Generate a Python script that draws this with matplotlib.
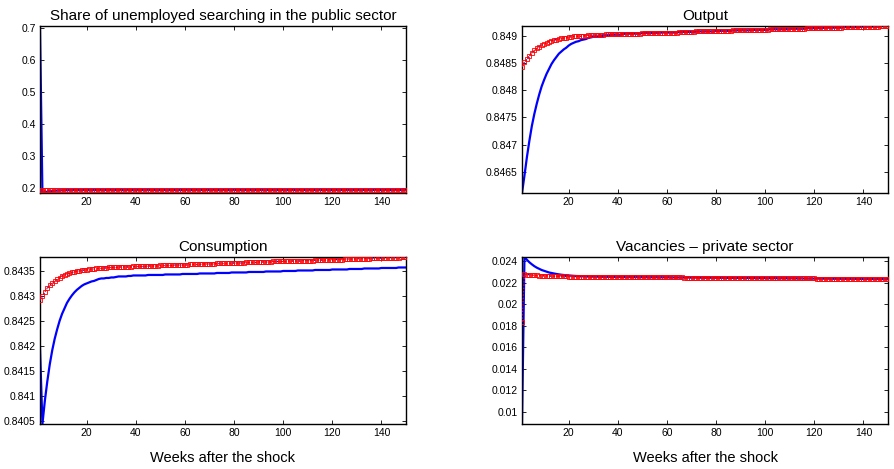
import matplotlib
matplotlib.use("Agg")
import matplotlib.pyplot as plt
from matplotlib.ticker import FormatStrFormatter

plt.rcParams['font.family'] = ['Liberation Sans', 'DejaVu Sans']

# semanas 1..150
weeks = list(range(1, 151))

# Share of unemployed searching in the public sector
share_blue = [
    0.706, 0.1855, 0.1880, 0.1897, 0.1910, 0.1920, 0.1927, 0.1932, 0.1936, 0.1939,
    0.1941, 0.1943, 0.1944, 0.1945, 0.1946, 0.1946, 0.1947, 0.1947, 0.1947, 0.1948,
    0.1948, 0.1948, 0.1948, 0.1948, 0.1948, 0.1948, 0.1948, 0.1948, 0.1948, 0.1948,
    0.1948, 0.1948, 0.1948, 0.1948, 0.1948, 0.1948, 0.1948, 0.1948, 0.1948, 0.1948,
    0.1948, 0.1948, 0.1948, 0.1948, 0.1948, 0.1948, 0.1948, 0.1948, 0.1948, 0.1948,
    0.1948, 0.1948, 0.1948, 0.1948, 0.1948, 0.1948, 0.1948, 0.1948, 0.1948, 0.1948,
    0.1948, 0.1948, 0.1948, 0.1948, 0.1948, 0.1948, 0.1948, 0.1948, 0.1948, 0.1948,
    0.1948, 0.1948, 0.1948, 0.1948, 0.1948, 0.1948, 0.1948, 0.1948, 0.1948, 0.1948,
    0.1948, 0.1948, 0.1948, 0.1948, 0.1948, 0.1948, 0.1948, 0.1948, 0.1948, 0.1948,
    0.1948, 0.1948, 0.1948, 0.1948, 0.1948, 0.1948, 0.1948, 0.1948, 0.1948, 0.1948,
    0.1948, 0.1948, 0.1948, 0.1948, 0.1948, 0.1948, 0.1948, 0.1948, 0.1948, 0.1948,
    0.1948, 0.1948, 0.1948, 0.1948, 0.1948, 0.1948, 0.1948, 0.1948, 0.1948, 0.1948,
    0.1948, 0.1948, 0.1948, 0.1948, 0.1948, 0.1948, 0.1948, 0.1948, 0.1948, 0.1948,
    0.1948, 0.1948, 0.1948, 0.1948, 0.1948, 0.1948, 0.1948, 0.1948, 0.1948, 0.1948,
    0.1948, 0.1948, 0.1948, 0.1948, 0.1948, 0.1948, 0.1948, 0.1948, 0.1948, 0.1948,
]
share_red = [
    0.1948, 0.1948, 0.1948, 0.1948, 0.1948, 0.1948, 0.1948, 0.1948, 0.1948, 0.1948,
    0.1948, 0.1948, 0.1948, 0.1948, 0.1948, 0.1948, 0.1948, 0.1948, 0.1948, 0.1948,
    0.1948, 0.1948, 0.1948, 0.1948, 0.1948, 0.1948, 0.1948, 0.1948, 0.1948, 0.1948,
    0.1948, 0.1948, 0.1948, 0.1948, 0.1948, 0.1948, 0.1948, 0.1948, 0.1948, 0.1948,
    0.1948, 0.1948, 0.1948, 0.1948, 0.1948, 0.1948, 0.1948, 0.1948, 0.1948, 0.1948,
    0.1948, 0.1948, 0.1948, 0.1948, 0.1948, 0.1948, 0.1948, 0.1948, 0.1948, 0.1948,
    0.1948, 0.1948, 0.1948, 0.1948, 0.1948, 0.1948, 0.1948, 0.1948, 0.1948, 0.1948,
    0.1948, 0.1948, 0.1948, 0.1948, 0.1948, 0.1948, 0.1948, 0.1948, 0.1948, 0.1948,
    0.1948, 0.1948, 0.1948, 0.1948, 0.1948, 0.1948, 0.1948, 0.1948, 0.1948, 0.1948,
    0.1948, 0.1948, 0.1948, 0.1948, 0.1948, 0.1948, 0.1948, 0.1948, 0.1948, 0.1948,
    0.1948, 0.1948, 0.1948, 0.1948, 0.1948, 0.1948, 0.1948, 0.1948, 0.1948, 0.1948,
    0.1948, 0.1948, 0.1948, 0.1948, 0.1948, 0.1948, 0.1948, 0.1948, 0.1948, 0.1948,
    0.1948, 0.1948, 0.1948, 0.1948, 0.1948, 0.1948, 0.1948, 0.1948, 0.1948, 0.1948,
    0.1948, 0.1948, 0.1948, 0.1948, 0.1948, 0.1948, 0.1948, 0.1948, 0.1948, 0.1948,
    0.1948, 0.1948, 0.1948, 0.1948, 0.1948, 0.1948, 0.1948, 0.1948, 0.1948, 0.1948,
]

# Output
output_blue = [
    0.84611, 0.84643, 0.84677, 0.84707, 0.84734, 0.84756, 0.84775, 0.84792, 0.84807, 0.84819,
    0.84830, 0.84839, 0.84848, 0.84855, 0.84861, 0.84867, 0.84871, 0.84875, 0.84878, 0.84882,
    0.84885, 0.84887, 0.84889, 0.84890, 0.84892, 0.84893, 0.84894, 0.84896, 0.84897, 0.84898,
    0.84898, 0.84899, 0.84899, 0.84900, 0.84901, 0.84901, 0.84902, 0.84902, 0.84902, 0.84902,
    0.84902, 0.84903, 0.84904, 0.84904, 0.84904, 0.84904, 0.84904, 0.84904, 0.84904, 0.84905,
    0.84905, 0.84905, 0.84905, 0.84905, 0.84905, 0.84905, 0.84906, 0.84906, 0.84906, 0.84906,
    0.84906, 0.84906, 0.84906, 0.84906, 0.84907, 0.84907, 0.84907, 0.84907, 0.84907, 0.84907,
    0.84907, 0.84908, 0.84908, 0.84908, 0.84908, 0.84908, 0.84908, 0.84908, 0.84908, 0.84909,
    0.84909, 0.84909, 0.84909, 0.84909, 0.84909, 0.84909, 0.84910, 0.84910, 0.84910, 0.84910,
    0.84910, 0.84910, 0.84910, 0.84910, 0.84911, 0.84911, 0.84911, 0.84911, 0.84911, 0.84911,
    0.84911, 0.84912, 0.84912, 0.84912, 0.84912, 0.84912, 0.84912, 0.84912, 0.84912, 0.84913,
    0.84913, 0.84913, 0.84913, 0.84913, 0.84913, 0.84913, 0.84914, 0.84914, 0.84914, 0.84914,
    0.84914, 0.84914, 0.84914, 0.84915, 0.84915, 0.84915, 0.84915, 0.84915, 0.84915, 0.84915,
    0.84915, 0.84916, 0.84916, 0.84916, 0.84916, 0.84916, 0.84916, 0.84916, 0.84917, 0.84917,
    0.84917, 0.84917, 0.84917, 0.84917, 0.84917, 0.84917, 0.84918, 0.84918, 0.84918, 0.84918,
]
output_red = [
    0.84843, 0.84851, 0.84857, 0.84863, 0.84869, 0.84873, 0.84877, 0.84880, 0.84883, 0.84885,
    0.84887, 0.84889, 0.84891, 0.84892, 0.84893, 0.84894, 0.84895, 0.84896, 0.84896, 0.84898,
    0.84898, 0.84899, 0.84899, 0.84899, 0.84899, 0.84900, 0.84900, 0.84901, 0.84901, 0.84901,
    0.84901, 0.84902, 0.84902, 0.84902, 0.84903, 0.84903, 0.84903, 0.84903, 0.84903, 0.84903,
    0.84903, 0.84903, 0.84904, 0.84904, 0.84904, 0.84904, 0.84904, 0.84904, 0.84904, 0.84905,
    0.84905, 0.84905, 0.84905, 0.84905, 0.84905, 0.84905, 0.84906, 0.84906, 0.84906, 0.84906,
    0.84906, 0.84906, 0.84906, 0.84906, 0.84907, 0.84907, 0.84907, 0.84907, 0.84907, 0.84907,
    0.84907, 0.84908, 0.84908, 0.84908, 0.84908, 0.84908, 0.84908, 0.84908, 0.84908, 0.84909,
    0.84909, 0.84909, 0.84909, 0.84909, 0.84909, 0.84909, 0.84910, 0.84910, 0.84910, 0.84910,
    0.84910, 0.84910, 0.84910, 0.84910, 0.84911, 0.84911, 0.84911, 0.84911, 0.84911, 0.84911,
    0.84911, 0.84912, 0.84912, 0.84912, 0.84912, 0.84912, 0.84912, 0.84912, 0.84912, 0.84913,
    0.84913, 0.84913, 0.84913, 0.84913, 0.84913, 0.84913, 0.84914, 0.84914, 0.84914, 0.84914,
    0.84914, 0.84914, 0.84914, 0.84915, 0.84915, 0.84915, 0.84915, 0.84915, 0.84915, 0.84915,
    0.84915, 0.84916, 0.84916, 0.84916, 0.84916, 0.84916, 0.84916, 0.84916, 0.84917, 0.84917,
    0.84917, 0.84917, 0.84917, 0.84917, 0.84917, 0.84917, 0.84918, 0.84918, 0.84918, 0.84918,
]

# Consumption
cons_blue = [
    0.84199, 0.84044, 0.84091, 0.84130, 0.84164, 0.84192, 0.84215, 0.84234, 0.84251, 0.84265,
    0.84276, 0.84287, 0.84295, 0.84302, 0.84308, 0.84313, 0.84317, 0.84321, 0.84324, 0.84326,
    0.84328, 0.84330, 0.84331, 0.84333, 0.84335, 0.84336, 0.84336, 0.84337, 0.84337, 0.84338,
    0.84338, 0.84339, 0.84340, 0.84340, 0.84340, 0.84340, 0.84341, 0.84341, 0.84342, 0.84342,
    0.84342, 0.84342, 0.84342, 0.84342, 0.84343, 0.84343, 0.84343, 0.84343, 0.84343, 0.84343,
    0.84343, 0.84344, 0.84344, 0.84344, 0.84344, 0.84344, 0.84344, 0.84344, 0.84345, 0.84345,
    0.84345, 0.84345, 0.84345, 0.84345, 0.84345, 0.84346, 0.84346, 0.84346, 0.84346, 0.84346,
    0.84346, 0.84346, 0.84347, 0.84347, 0.84347, 0.84347, 0.84347, 0.84347, 0.84348, 0.84348,
    0.84348, 0.84348, 0.84348, 0.84348, 0.84348, 0.84349, 0.84349, 0.84349, 0.84349, 0.84349,
    0.84349, 0.84349, 0.84350, 0.84350, 0.84350, 0.84350, 0.84350, 0.84350, 0.84350, 0.84351,
    0.84351, 0.84351, 0.84351, 0.84351, 0.84351, 0.84352, 0.84352, 0.84352, 0.84352, 0.84352,
    0.84352, 0.84352, 0.84353, 0.84353, 0.84353, 0.84353, 0.84353, 0.84353, 0.84353, 0.84354,
    0.84354, 0.84354, 0.84354, 0.84354, 0.84354, 0.84354, 0.84355, 0.84355, 0.84355, 0.84355,
    0.84355, 0.84355, 0.84356, 0.84356, 0.84356, 0.84356, 0.84356, 0.84356, 0.84356, 0.84357,
    0.84357, 0.84357, 0.84357, 0.84357, 0.84357, 0.84357, 0.84358, 0.84358, 0.84358, 0.84358,
]
cons_red = [
    0.84292, 0.84301, 0.84309, 0.84317, 0.84322, 0.84327, 0.84331, 0.84334, 0.84337, 0.84341,
    0.84343, 0.84345, 0.84346, 0.84348, 0.84349, 0.84351, 0.84351, 0.84352, 0.84353, 0.84353,
    0.84354, 0.84355, 0.84355, 0.84356, 0.84356, 0.84356, 0.84357, 0.84357, 0.84358, 0.84358,
    0.84358, 0.84358, 0.84359, 0.84359, 0.84359, 0.84359, 0.84359, 0.84359, 0.84360, 0.84360,
    0.84360, 0.84360, 0.84360, 0.84360, 0.84361, 0.84361, 0.84361, 0.84361, 0.84361, 0.84362,
    0.84362, 0.84362, 0.84362, 0.84362, 0.84362, 0.84363, 0.84363, 0.84363, 0.84363, 0.84363,
    0.84363, 0.84364, 0.84364, 0.84364, 0.84364, 0.84364, 0.84365, 0.84365, 0.84365, 0.84365,
    0.84365, 0.84365, 0.84366, 0.84366, 0.84366, 0.84366, 0.84366, 0.84366, 0.84367, 0.84367,
    0.84367, 0.84367, 0.84367, 0.84367, 0.84368, 0.84368, 0.84368, 0.84368, 0.84368, 0.84369,
    0.84369, 0.84369, 0.84369, 0.84369, 0.84369, 0.84370, 0.84370, 0.84370, 0.84370, 0.84370,
    0.84370, 0.84371, 0.84371, 0.84371, 0.84371, 0.84371, 0.84371, 0.84372, 0.84372, 0.84372,
    0.84372, 0.84372, 0.84373, 0.84373, 0.84373, 0.84373, 0.84373, 0.84373, 0.84374, 0.84374,
    0.84374, 0.84374, 0.84374, 0.84374, 0.84375, 0.84375, 0.84375, 0.84375, 0.84375, 0.84376,
    0.84376, 0.84376, 0.84376, 0.84376, 0.84376, 0.84377, 0.84377, 0.84377, 0.84377, 0.84377,
    0.84377, 0.84378, 0.84378, 0.84378, 0.84378, 0.84378, 0.84378, 0.84379, 0.84379, 0.84379,
]

# Vacancies - private sector
vac_blue = [
    0.00885, 0.02440, 0.02414, 0.02391, 0.02372, 0.02355, 0.02341, 0.02330, 0.02319, 0.02311,
    0.02303, 0.02296, 0.02291, 0.02286, 0.02282, 0.02278, 0.02275, 0.02272, 0.02270, 0.02268,
    0.02266, 0.02265, 0.02263, 0.02262, 0.02261, 0.02261, 0.02260, 0.02260, 0.02258, 0.02258,
    0.02258, 0.02257, 0.02257, 0.02256, 0.02256, 0.02256, 0.02256, 0.02255, 0.02255, 0.02254,
    0.02254, 0.02254, 0.02254, 0.02254, 0.02253, 0.02253, 0.02253, 0.02253, 0.02253, 0.02252,
    0.02252, 0.02252, 0.02252, 0.02252, 0.02252, 0.02251, 0.02251, 0.02251, 0.02251, 0.02251,
    0.02250, 0.02250, 0.02250, 0.02250, 0.02250, 0.02250, 0.02249, 0.02249, 0.02249, 0.02249,
    0.02249, 0.02248, 0.02248, 0.02248, 0.02248, 0.02248, 0.02247, 0.02247, 0.02247, 0.02247,
    0.02247, 0.02247, 0.02246, 0.02246, 0.02246, 0.02246, 0.02246, 0.02245, 0.02245, 0.02245,
    0.02245, 0.02245, 0.02245, 0.02244, 0.02244, 0.02244, 0.02244, 0.02244, 0.02243, 0.02243,
    0.02243, 0.02243, 0.02243, 0.02243, 0.02242, 0.02242, 0.02242, 0.02242, 0.02242, 0.02241,
    0.02241, 0.02241, 0.02241, 0.02241, 0.02240, 0.02240, 0.02240, 0.02240, 0.02240, 0.02240,
    0.02239, 0.02239, 0.02239, 0.02239, 0.02239, 0.02238, 0.02238, 0.02238, 0.02238, 0.02238,
    0.02238, 0.02237, 0.02237, 0.02237, 0.02237, 0.02237, 0.02236, 0.02236, 0.02236, 0.02236,
    0.02236, 0.02235, 0.02235, 0.02235, 0.02235, 0.02235, 0.02235, 0.02234, 0.02234, 0.02234,
]
vac_red = [
    0.01834, 0.02280, 0.02277, 0.02274, 0.02272, 0.02270, 0.02268, 0.02267, 0.02266, 0.02265,
    0.02264, 0.02263, 0.02262, 0.02262, 0.02261, 0.02260, 0.02260, 0.02259, 0.02259, 0.02258,
    0.02258, 0.02258, 0.02257, 0.02257, 0.02257, 0.02257, 0.02257, 0.02257, 0.02256, 0.02256,
    0.02256, 0.02256, 0.02256, 0.02255, 0.02255, 0.02255, 0.02255, 0.02255, 0.02255, 0.02254,
    0.02254, 0.02254, 0.02254, 0.02254, 0.02253, 0.02253, 0.02253, 0.02253, 0.02253, 0.02252,
    0.02252, 0.02252, 0.02252, 0.02252, 0.02252, 0.02251, 0.02251, 0.02251, 0.02251, 0.02251,
    0.02250, 0.02250, 0.02250, 0.02250, 0.02250, 0.02250, 0.02249, 0.02249, 0.02249, 0.02249,
    0.02249, 0.02248, 0.02248, 0.02248, 0.02248, 0.02248, 0.02247, 0.02247, 0.02247, 0.02247,
    0.02247, 0.02247, 0.02246, 0.02246, 0.02246, 0.02246, 0.02246, 0.02245, 0.02245, 0.02245,
    0.02245, 0.02245, 0.02245, 0.02244, 0.02244, 0.02244, 0.02244, 0.02244, 0.02243, 0.02243,
    0.02243, 0.02243, 0.02243, 0.02243, 0.02242, 0.02242, 0.02242, 0.02242, 0.02242, 0.02241,
    0.02241, 0.02241, 0.02241, 0.02241, 0.02240, 0.02240, 0.02240, 0.02240, 0.02240, 0.02240,
    0.02239, 0.02239, 0.02239, 0.02239, 0.02239, 0.02238, 0.02238, 0.02238, 0.02238, 0.02238,
    0.02238, 0.02237, 0.02237, 0.02237, 0.02237, 0.02237, 0.02236, 0.02236, 0.02236, 0.02236,
    0.02236, 0.02235, 0.02235, 0.02235, 0.02235, 0.02235, 0.02235, 0.02234, 0.02234, 0.02234,
]

x_ticks = [20, 40, 60, 80, 100, 120, 140]

panels = [
    # titulo, azul, rojo, yticks, xlabel, posicion
    ("Share of unemployed searching in the public sector", share_blue, share_red,
     [0.2, 0.3, 0.4, 0.5, 0.6, 0.7], False, [0.0447, 0.5885, 0.4094, 0.3561]),
    ("Output", output_blue, output_red,
     [0.8465, 0.847, 0.8475, 0.848, 0.8485, 0.849], False, [0.5839, 0.5885, 0.4094, 0.3561]),
    ("Consumption", cons_blue, cons_red,
     [0.8405, 0.841, 0.8415, 0.842, 0.8425, 0.843, 0.8435], True, [0.0447, 0.0959, 0.4094, 0.3561]),
    ("Vacancies \u2013 private sector", vac_blue, vac_red,
     [0.01, 0.012, 0.014, 0.016, 0.018, 0.02, 0.022, 0.024], True, [0.5839, 0.0959, 0.4094, 0.3561]),
]

fig = plt.figure(figsize=(8.94, 4.69), dpi=100)

for title, blue, red, yticks, show_xlabel, pos in panels:
    ax = fig.add_axes(pos)
    ax.plot(weeks, blue, color='blue', linewidth=1.6, zorder=2)
    ax.plot(weeks, red, color='blue', linestyle=':', linewidth=1.0, zorder=3)
    ax.plot(weeks, red, color='red', linestyle=':', linewidth=0.9,
            marker='s', markersize=2.3, markerfacecolor='none',
            markeredgecolor='red', markeredgewidth=0.6, zorder=4)
    ax.set_xlim(1, 150)
    ax.set_ylim(min(min(blue), min(red)), max(max(blue), max(red)))
    ax.set_xticks(x_ticks)
    ax.set_yticks(yticks)
    ax.yaxis.set_major_formatter(FormatStrFormatter("%g"))
    ax.tick_params(direction='in', top=True, right=True, length=3,
                   width=0.6, labelsize=7.5, pad=3)
    for sp in ax.spines.values():
        sp.set_linewidth(1.0)
    ax.set_title(title, fontsize=11, pad=4)
    if show_xlabel:
        ax.set_xlabel("Weeks after the shock", fontsize=10.5, labelpad=9)

fig.savefig("out.png", dpi=100)
